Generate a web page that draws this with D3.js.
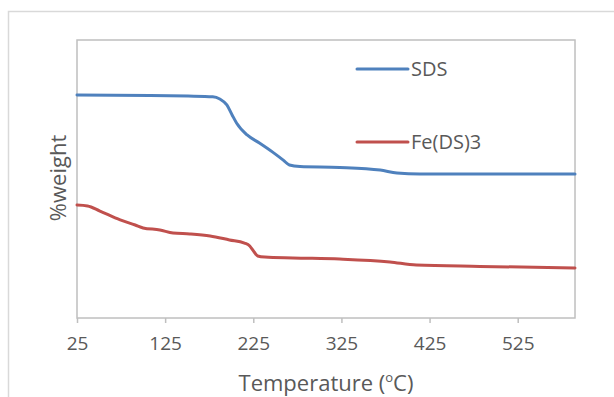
<!DOCTYPE html>
<html lang="en">
  <head>
    <meta charset="utf-8">
    <title>TGA curves</title>
    <script src="https://cdnjs.cloudflare.com/ajax/libs/d3/7.8.5/d3.min.js"></script>
    <style type="text/css">
      body { margin: 0; background: #fff; }
      .tick text { font-family: 'Open Sans', sans-serif; font-size: 19px; fill: #595959; }
    </style>
  </head>
  <body>
    <svg id="chart"></svg>
    <script type="text/javascript">
// temperature (C) and %weight
var sdsTemp   = [25, 108, 151, 179, 187, 195, 201, 206, 218, 232, 247, 259, 266, 278, 323, 369, 388, 414, 590];
var sdsWeight = [100.3, 100.0, 99.8, 99.5, 98.5, 95.8, 91.3, 87.7, 82.3, 78.7, 74.6, 71.0, 68.8, 68.1, 67.7, 66.5, 65.2, 64.7, 64.7];
var feTemp    = [25, 37, 51, 74, 91, 100, 119, 134, 153, 176, 198, 215, 221, 226, 230, 238, 270, 323, 380, 410, 482, 590];
var feWeight  = [50.8, 50.4, 48.1, 44.1, 41.8, 40.5, 39.6, 38.2, 37.8, 36.9, 35.1, 33.7, 32.4, 29.7, 27.9, 27.4, 27.0, 26.5, 25.2, 23.8, 23.2, 22.5];
var xTicks = [25, 125, 225, 325, 425, 525];
var seriesNames = ["SDS", "Fe(DS)3"];
var seriesColors = ["#4f81bd", "#c0504d"];

var w = 614, h = 397;
var padLeft = 77, padRight = 575, padTop = 40, padBottom = 318;

var svg = d3.select("#chart").attr("width", w).attr("height", h);

// outer chart frame
svg.append("rect")
  .attr("x", 8.5).attr("y", 11.5)
  .attr("width", 620).attr("height", 400)
  .attr("fill", "none").attr("stroke", "#d9d9d9").attr("stroke-width", 1.5);

var x = d3.scaleLinear().domain([25, 590]).range([padLeft, padRight]);
var y = d3.scaleLinear().domain([0, 125]).range([padBottom, padTop]);

// plot area frame
svg.append("rect")
  .attr("x", padLeft).attr("y", padTop)
  .attr("width", padRight - padLeft).attr("height", padBottom - padTop)
  .attr("fill", "none").attr("stroke", "#bfbfbf").attr("stroke-width", 1.5);

var xAxis = d3.axisBottom(x).tickValues(xTicks).tickSize(5).tickPadding(14).tickFormat(d3.format("d"));
var gx = svg.append("g")
  .attr("transform", "translate(0," + padBottom + ")")
  .call(xAxis);
gx.select(".domain").remove();
gx.selectAll(".tick line").attr("stroke", "#bfbfbf").attr("stroke-width", 1.5);

var line = d3.line()
  .x(function(d) { return x(d[0]); })
  .y(function(d) { return y(d[1]); })
  .curve(d3.curveMonotoneX);

var series = [
  d3.zip(sdsTemp, sdsWeight),
  d3.zip(feTemp, feWeight)
];

series.forEach(function(s, i) {
  svg.append("path")
    .datum(s)
    .attr("fill", "none")
    .attr("stroke", seriesColors[i])
    .attr("stroke-width", 3)
    .attr("stroke-linecap", "round")
    .attr("d", line);
});

// legend
var legendY = [69, 142];
seriesNames.forEach(function(name, i) {
  svg.append("line")
    .attr("x1", 357).attr("x2", 408)
    .attr("y1", legendY[i]).attr("y2", legendY[i])
    .attr("stroke", seriesColors[i]).attr("stroke-width", 3)
    .attr("stroke-linecap", "round");
  svg.append("text")
    .attr("x", 411).attr("y", legendY[i] + 7)
    .style("font-family", "Open Sans")
    .style("font-size", "20px")
    .attr("fill", "#595959")
    .text(name);
});

// axis titles
svg.append("text")
  .attr("x", 326).attr("y", 391)
  .attr("text-anchor", "middle")
  .style("font-family", "Open Sans")
  .style("font-size", "22px")
  .attr("fill", "#595959")
  .html("Temperature (<tspan baseline-shift='super' font-size='13px'>o</tspan>C)");

svg.append("text")
  .attr("transform", "translate(66,178) rotate(-90)")
  .attr("text-anchor", "middle")
  .style("font-family", "Open Sans")
  .style("font-size", "22px")
  .attr("fill", "#595959")
  .text("%weight");
    </script>
  </body>
</html>
